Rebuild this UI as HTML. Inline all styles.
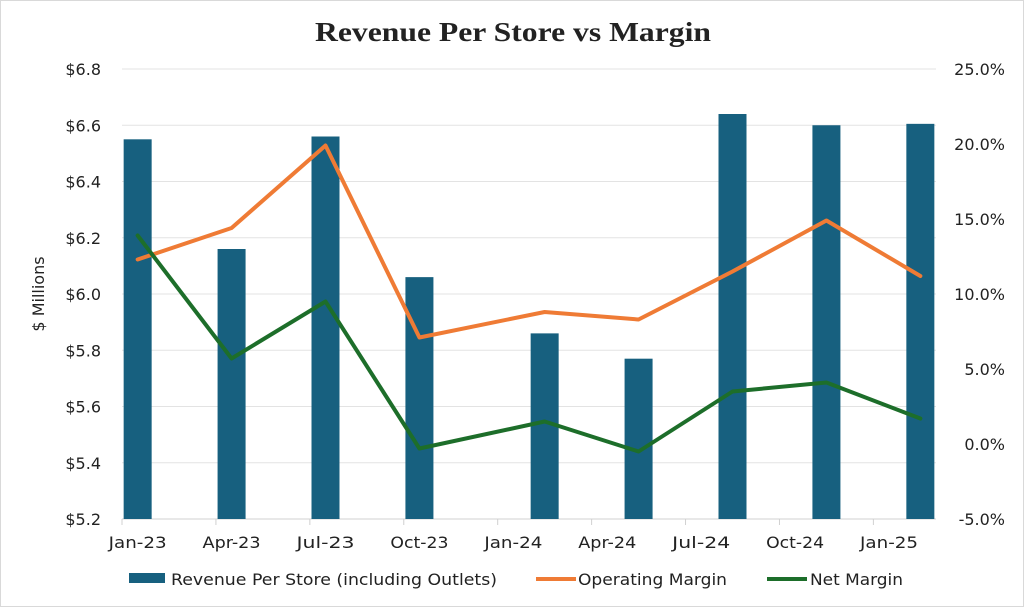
<!DOCTYPE html>
<html><head><meta charset="utf-8"><style>
html,body{margin:0;padding:0;background:#fff}
#wrap{position:relative;width:1024px;height:607px;box-sizing:border-box;border:1px solid #d9d9d9;overflow:hidden}
svg text{font-family:"DejaVu Sans","Liberation Sans",sans-serif;fill:#222}
</style></head><body>
<div id="wrap">
<svg id="chart" width="1024" height="607"></svg>
</div>
<script>
const months=[0,3,6,9,13,16,19,22,25];
const revenue=[6.55,6.16,6.56,6.06,5.86,5.77,6.64,6.60,6.605];
const opMargin=[12.3,14.4,19.9,7.1,8.8,8.3,11.5,14.9,11.2];
const netMargin=[13.9,5.7,9.5,-0.3,1.5,-0.5,3.5,4.1,1.7];
const xLabels=["Jan-23","Apr-23","Jul-23","Oct-23","Jan-24","Apr-24","Jul-24","Oct-24","Jan-25"];
const leftTicks=[5.2,5.4,5.6,5.8,6.0,6.2,6.4,6.6,6.8];
const rightTicks=[-5,0,5,10,15,20,25];

const NS="http://www.w3.org/2000/svg";
const svg=document.getElementById('chart');
const L=121,R=935,T=68,B=518,MW=(R-L)/26;
const x=m=>L+MW*(m+0.5);
const yL=v=>B-(v-5.2)/(6.8-5.2)*(B-T);
const yR=v=>B-(v+5)/30*(B-T);
function el(tag,attrs,parent){const e=document.createElementNS(NS,tag);for(const k in attrs)e.setAttribute(k,attrs[k]);(parent||svg).appendChild(e);return e;}

const title=el('text',{x:314,y:40,'font-size':27,'font-weight':'bold',textLength:396,lengthAdjust:'spacingAndGlyphs',style:'font-family:"Liberation Serif",serif'});
title.textContent='Revenue Per Store vs Margin';



leftTicks.forEach(v=>{
  const g=el('line',{x1:L,x2:R,y1:yL(v),y2:yL(v),stroke:v===5.2?'#d0d0d0':'#e3e3e3','stroke-width':1});
  
  
  const t=el('text',{x:100,y:yL(v)+6,'text-anchor':'end','font-size':16});
  t.textContent='$'+v.toFixed(1);
  
  
});
rightTicks.forEach(v=>{
  const t=el('text',{x:1004,y:yR(v)+6,'text-anchor':'end','font-size':16});
  t.textContent=v.toFixed(1)+'%';
  
  
});
const yt=el('text',{x:0,y:0,'text-anchor':'middle','font-size':16,transform:'translate(43,293) rotate(-90)'});
yt.textContent='$ Millions';



xLabels.forEach((lab,i)=>{
  const tx=L+i*3*MW;
  const tk=el('line',{x1:tx,x2:tx,y1:B,y2:B+6,stroke:'#d0d0d0'});
  
  
  const t=el('text',{x:x(i*3),y:B+29,'text-anchor':'middle','font-size':16,textLength:58,lengthAdjust:'spacingAndGlyphs'});
  t.textContent=lab;
  
  
});

revenue.forEach((v,i)=>{
  const b=el('rect',{x:x(months[i])-14,y:yL(v),width:28,height:B-yL(v),fill:'#17607f'});
  
  
});
function line(data,color,name){
  const p=el('polyline',{points:data.map((v,i)=>x(months[i])+','+yR(v)).join(' '),fill:'none',stroke:color,'stroke-width':4,'stroke-linejoin':'round','stroke-linecap':'round'});
  
  
}
line(opMargin,'#ef7b35','operating-margin-line');
line(netMargin,'#1d6e2a','net-margin-line');

const items=[['rect','#17607f','Revenue Per Store (including Outlets)',128,170,326],['line','#ef7b35','Operating Margin',535,577,149],['line','#1d6e2a','Net Margin',766,809,93]];
items.forEach(([k,c,lab,lx,tx,tw])=>{
  if(k==='rect'){const r=el('rect',{x:lx,y:572,width:36,height:10,fill:c});
    }
  else{const r=el('line',{x1:lx,x2:lx+40,y1:578,y2:578,stroke:c,'stroke-width':4});
    }
  const t=el('text',{x:tx,y:584,'font-size':16,textLength:tw,lengthAdjust:'spacingAndGlyphs'});
  t.textContent=lab;
  
  
});
</script>
</body></html>
